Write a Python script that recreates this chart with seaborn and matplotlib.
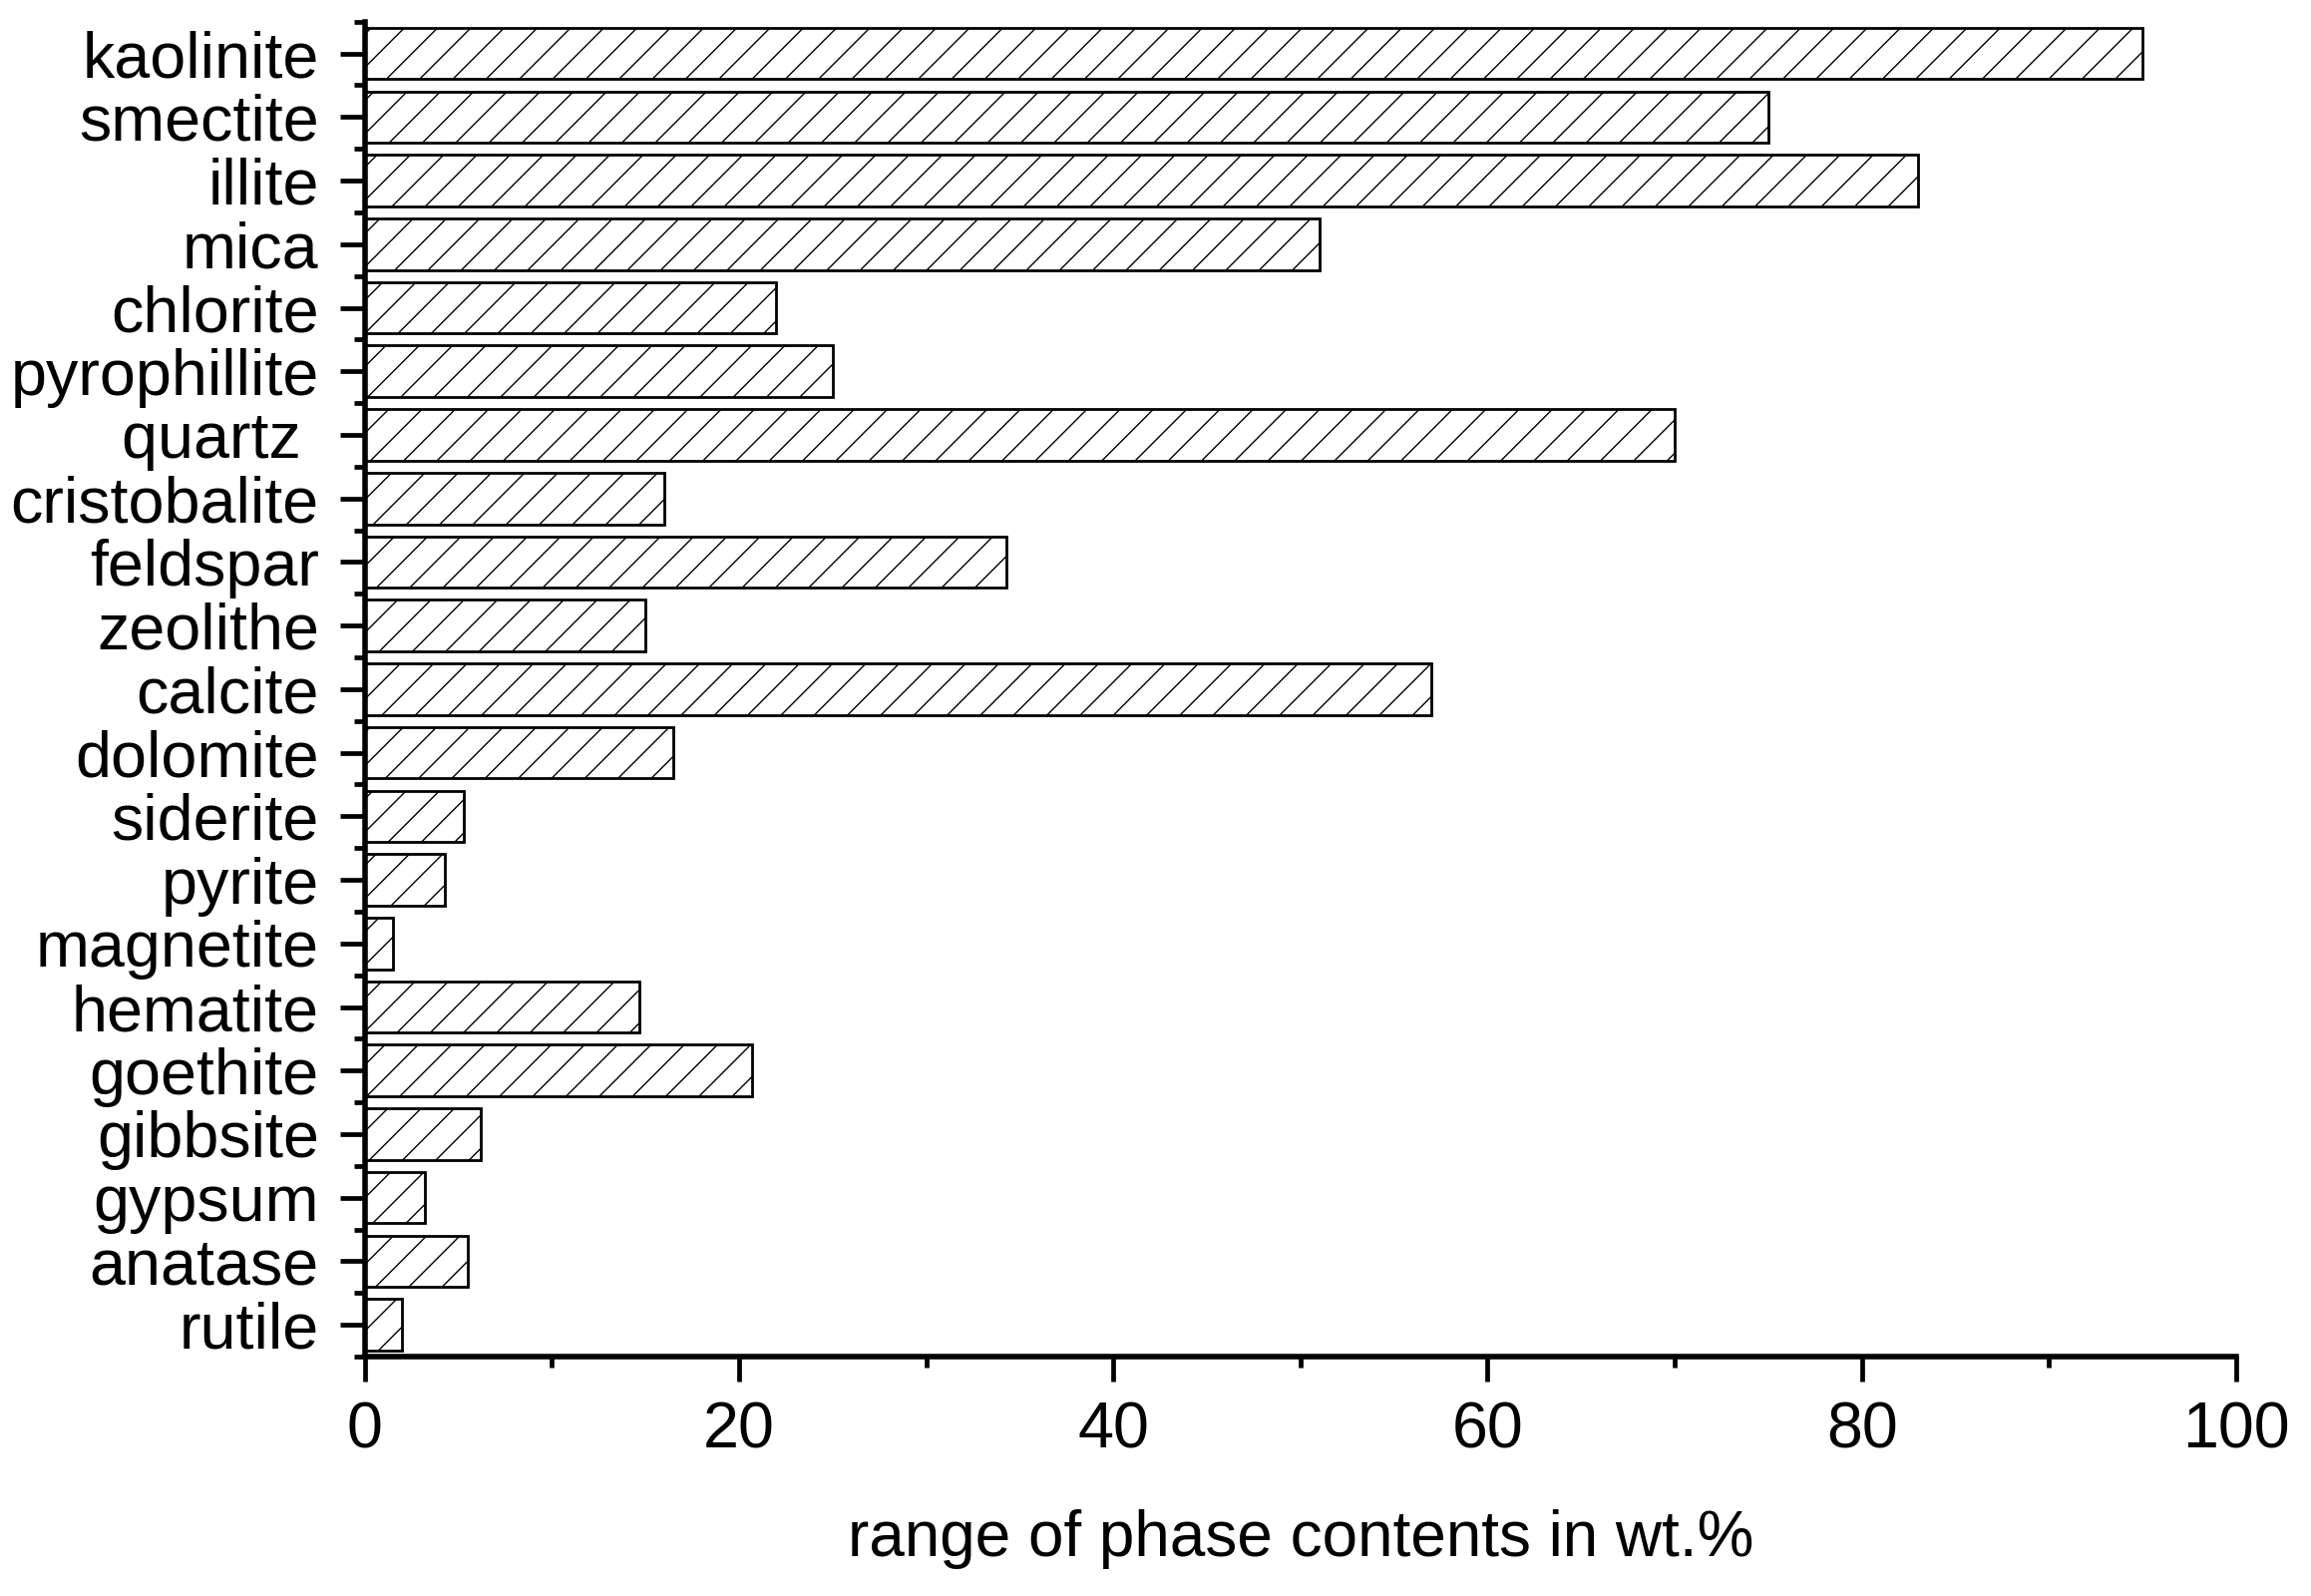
import numpy as np
import pandas as pd
import matplotlib
matplotlib.use("Agg")
import matplotlib.pyplot as plt
from matplotlib.ticker import FixedLocator, MultipleLocator
import seaborn as sns

minerals = ["kaolinite", "smectite", "illite", "mica", "chlorite", "pyrophillite",
            "quartz ", "cristobalite", "feldspar", "zeolithe", "calcite", "dolomite",
            "siderite", "pyrite", "magnetite", "hematite", "goethite", "gibbsite",
            "gypsum", "anatase", "rutile"]
ranges = [95, 75, 83, 51, 22, 25, 70, 16, 34.3, 15, 57, 16.5,
          5.3, 4.3, 1.5, 14.7, 20.7, 6.2, 3.2, 5.5, 2.0]
xticks = [0, 20, 40, 60, 80, 100]
xlabel = "range of phase contents in wt.%"

sns.set_style("ticks")
plt.rcParams["font.family"] = ["Liberation Sans", "DejaVu Sans"]
plt.rcParams["hatch.linewidth"] = 1.0
plt.rcParams["hatch.color"] = "black"

df = pd.DataFrame({"mineral": minerals, "range": ranges})

fig = plt.figure(figsize=(23.17, 16), dpi=100)
ax = fig.add_axes([0.1578, 0.15, 0.8098, 0.8364])

sns.barplot(data=df, x="range", y="mineral", orient="h", color="white",
            edgecolor="black", linewidth=2.0, width=0.81, hatch="/", ax=ax,
            saturation=1)

ax.set_xlim(0, 100)
ax.set_ylim(len(minerals) - 0.5, -0.5)
ax.set_xticks(xticks)
ax.xaxis.set_minor_locator(MultipleLocator(10))
ax.yaxis.set_minor_locator(FixedLocator(np.arange(-0.5, len(minerals), 1.0)))

for s in ["top", "right"]:
    ax.spines[s].set_visible(False)
for s in ["left", "bottom"]:
    ax.spines[s].set_linewidth(4.0)
    ax.spines[s].set_color("black")

ax.tick_params(axis="both", which="major", length=18, width=3.4, color="black",
               labelsize=46.5, labelcolor="black", direction="out")
ax.tick_params(axis="both", which="minor", length=8, width=3.4, color="black",
               direction="out")
ax.tick_params(axis="y", which="major", pad=15)
ax.tick_params(axis="x", which="major", pad=14)

ax.set_ylabel("")
ax.set_xlabel(xlabel, fontsize=46, labelpad=35, color="black")
ax.grid(False)

fig.savefig("out.png", dpi=100, facecolor="white")
